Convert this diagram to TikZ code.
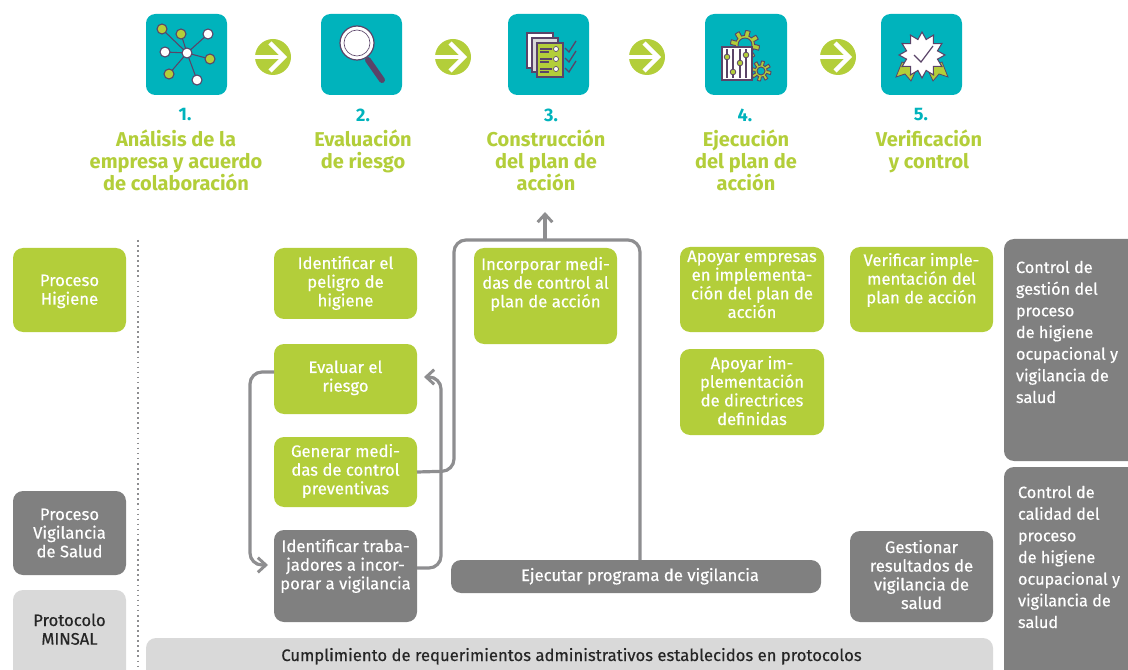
\documentclass[tikz,border=0pt]{standalone}
\usepackage{fontspec}
\setmainfont{Fira Sans}
\newfontfamily\bodyfont[FakeBold=0.45]{Fira Sans}
\usetikzlibrary{arrows.meta}
\definecolor{lime}{HTML}{B3CE3A}
\definecolor{teal2}{HTML}{00B3BC}
\definecolor{grayb}{HTML}{808080}
\definecolor{lightb}{HTML}{D9D9D9}
\definecolor{conn}{HTML}{8E8E90}
\definecolor{ink}{HTML}{5A4468}
\tikzset{
  x=0.75pt,y=-0.75pt,
  box/.style={rounded corners=7.5pt,inner sep=0pt,outer sep=0pt,text=white},
  link/.style={draw=conn,line width=2.4pt,rounded corners=9pt},
  tip/.style={-{Straight Barb[length=6pt,width=11pt,line width=2.2pt]}},
  head/.style={text=lime,font=\bfseries\fontsize{15}{16.5}\selectfont,align=center,anchor=north,inner sep=0pt},
  num/.style={text=teal2,font=\bfseries\fontsize{13.6}{16.5}\selectfont,inner sep=0pt},
  icon/.style={fill=teal2,rounded corners=7pt},
  go/.style={draw=white,line width=3.2pt},
  thin/.style={draw=ink,line width=.8pt},
}
% name, x1, y1, x2, y2, fill, first baseline y, text
\newcommand{\bx}[8]{%
  \pgfmathsetmacro{\cxx}{(#2+#4)/2}\pgfmathsetmacro{\cyy}{(#3+#5)/2}%
  \pgfmathsetmacro{\www}{(#4-#2)*0.75}\pgfmathsetmacro{\hhh}{(#5-#3)*0.75}%
  \pgfmathsetmacro{\ooo}{(#7-#3)*0.75}%
  \node[box,fill=#6] (#1) at (\cxx,\cyy) {\parbox[c][\hhh pt][t]{\www pt}{\bodyfont\fontsize{12.5}{14}\selectfont\centering\rule{0pt}{\ooo pt}#8}};}
% same, left aligned, wide leading: left margin in px as #9
\newcommand{\bxl}[9]{%
  \pgfmathsetmacro{\cxx}{(#2+#4)/2}\pgfmathsetmacro{\cyy}{(#3+#5)/2}%
  \pgfmathsetmacro{\www}{(#4-#2)*0.75}\pgfmathsetmacro{\hhh}{(#5-#3)*0.75}%
  \pgfmathsetmacro{\ooo}{(#7-#3)*0.75}\pgfmathsetmacro{\lll}{#9*0.75}%
  \node[box,fill=#6] (#1) at (\cxx,\cyy) {\parbox[c][\hhh pt][t]{\www pt}{\bodyfont\fontsize{12.2}{16.25}\selectfont\raggedright\leftskip=\lll pt\rule{0pt}{\ooo pt}#8}};}
\newcommand{\goarrow}[2]{%
  \fill[lime] (#1,#2) circle[radius=18];
  \draw[go] (#1-18,#2) -- (#1+10,#2);
  \draw[go] (#1-3,#2-14) -- (#1+11,#2) -- (#1-3,#2+14);}
\begin{document}
\begin{tikzpicture}
\useasboundingbox (0,0) rectangle (1128,670);
\clip (0,0) rectangle (1128,670);
% icons
\fill[icon] (146,14) rectangle (227,95);
\fill[icon] (321,14) rectangle (402,95);
\fill[icon] (508,14) rectangle (589,95);
\fill[icon] (705,14) rectangle (787,95);
\fill[icon] (881,14) rectangle (962,95);
% icon 1
\foreach \a/\b in {162/29,181/34,208/34,165/52,210/59,169/74,197/80}
  \draw[thin] (187,53) -- (\a,\b);
\foreach \a/\b in {162/29,181/34,210/59,169/74}
  \filldraw[draw=ink,fill=lime,line width=.8pt] (\a,\b) circle[radius=5];
\foreach \a/\b in {187/53,208/34,165/52,197/80}
  \filldraw[draw=ink,fill=white,line width=.8pt] (\a,\b) circle[radius=5];
% icon 2
\draw[ink,line width=4.5pt,line cap=round] (368,60) -- (382,80);
\filldraw[draw=ink,fill=white,line width=.9pt] (357,43) circle[radius=17];
\draw[ink,line width=.5pt] (357,43) circle[radius=13];
\fill[white] (357,43) circle[radius=11];
% icon 3
\filldraw[draw=ink,fill=white,line width=.9pt] (527,33) rectangle (553,68);
\filldraw[draw=ink,fill=lightb,line width=.9pt] (532,38) rectangle (558,72);
\filldraw[draw=ink,fill=lime,line width=.9pt] (537,43) rectangle (563,77);
\foreach \y in {49,59,69}{
  \draw[thin] (540,\y) -- (552,\y);
  \draw[thin] (540,\y+3) -- (549,\y+3);
  \filldraw[draw=ink,fill=white,line width=.5pt] (556,\y) circle[radius=2.5];
  \draw[ink,line width=1pt] (565,\y-1) -- (569,\y+3) -- (576,\y-8);
}
% icon 4
\filldraw[draw=ink,fill=lime,line width=.7pt] plot[domain=0:357,samples=120] ({745+(12+2.5*sign(sin(8*\x)))*cos(\x)},{45+(12+2.5*sign(sin(8*\x)))*sin(\x)}) -- cycle;
\filldraw[draw=ink,fill=teal2,line width=.7pt] (745,45) circle[radius=7];
\filldraw[draw=ink,fill=lime,line width=.7pt] plot[domain=0:357,samples=120] ({761+(8+2*sign(sin(8*\x)))*cos(\x)},{71+(8+2*sign(sin(8*\x)))*sin(\x)}) -- cycle;
\filldraw[draw=ink,fill=teal2,line width=.7pt] (761,71) circle[radius=4];
\filldraw[draw=ink,fill=white,line width=.9pt] (722,47) rectangle (752,80);
\foreach \a/\b in {727/57,733/72,740/63,746/55}{
  \draw[thin] (\a,49) -- (\a,78);
  \filldraw[draw=ink,fill=lime,line width=.6pt] (\a,\b) circle[radius=2.8];
}
% icon 5
\filldraw[lime,draw=ink,line width=.6pt] (902,62) -- (896,77) -- (905,74) -- (911,81) -- (917,68) -- cycle;
\filldraw[lime,draw=ink,line width=.6pt] (942,62) -- (948,77) -- (939,74) -- (933,81) -- (927,68) -- cycle;
\filldraw[draw=ink,fill=white,line width=.8pt] plot[samples at={0,15,...,345}] ({922+(19.5+3.5*cos(12*\x))*cos(\x)},{55+(19.5+3.5*cos(12*\x))*sin(\x)}) -- cycle;
\draw[ink,line width=.9pt] (914,55) -- (921,62) -- (933,46);
% flow arrows
\goarrow{273}{57}
\goarrow{453}{57}
\goarrow{647}{57}
\goarrow{838}{57}
% headings
\node[num] (n1) at (185,115) {1.};
\node[num] (n2) at (363,115) {2.};
\node[num] (n3) at (551,115) {3.};
\node[num] (n4) at (745,115) {4.};
\node[num] (n5) at (921,115) {5.};
\node[head] (h1) at (176,130) {Análisis de la\\empresa y acuerdo\\de colaboración};
\node[head] (h2) at (363,130) {Evaluación\\de riesgo};
\node[head] (h3) at (546,130) {Construcción\\del plan de\\acción};
\node[head] (h4) at (746,130) {Ejecución\\del plan de\\acción};
\node[head] (h5) at (929,130) {Verificación\\y control};
% dotted separator
\coordinate (sepA) at (138,240);
\coordinate (sepB) at (138,670);
\draw[conn,line width=1.1pt,dash pattern=on 1.2pt off 2.6pt] (sepA) -- (sepB);
% left column
\bx{ph}{13}{248}{126}{332}{lime}{286}{Proceso\\Higiene}
\bx{pv}{13}{491}{126}{575}{grayb}{520}{Proceso\\Vigilancia\\de Salud}
\bx{pm}{13}{590}{126}{690}{lightb}{626}{\textcolor{black!85}{Protocolo\\MINSAL}}
% middle
\bx{a1}{274}{248}{417}{319}{lime}{269}{Identificar el\\peligro de\\higiene}
\bx{a2}{274}{344}{417}{414}{lime}{373}{Evaluar el\\riesgo}
\bx{a3}{274}{437}{417}{507}{lime}{457}{Generar medi-\\das de control\\preventivas}
\bx{a4}{274}{530}{417}{622}{grayb}{552}{Identificar traba-\\jadores a incor-\\porar a vigilancia}
\bx{b1}{474}{248}{617}{344}{lime}{270}{Incorporar medi-\\das de control al\\plan de acción}
\bx{b2}{451}{560}{821}{593}{grayb}{581}{\hspace*{6pt}Ejecutar programa de vigilancia}
\bx{c1}{680}{247}{824}{332}{lime}{262}{Apoyar empresas\\en implementa-\\ción del plan de\\acción}
\bx{c2}{680}{349}{824}{435}{lime}{369}{Apoyar im-\\plementación\\de directrices\\definidas}
\bx{d1}{850}{247}{993}{332}{lime}{266}{Verificar imple-\\mentación del\\plan de acción}
\bx{d2}{850}{531}{993}{622}{grayb}{553}{Gestionar\\resultados de\\vigilancia de\\salud}
\bx{e1}{146}{638}{993}{700}{lightb}{661}{\hspace*{3pt}\textcolor{black!85}{Cumplimiento de requerimientos administrativos establecidos en protocolos}}
% right column
\bxl{r1}{1004}{239}{1160}{461}{grayb}{273}{Control de\\gestión del\\proceso\\de higiene\\ocupacional y\\vigilancia de\\salud}{12}
\bxl{r2}{1004}{467}{1160}{700}{grayb}{498}{Control de\\calidad del\\proceso\\de higiene\\ocupacional y\\vigilancia de\\salud}{14}
% connectors
\coordinate (top) at (545,212);
\draw[link,tip,shorten >=4.5pt] (a2.west |- 0,372) -- (250,372) -- (250,565) -- (a4.west |- 0,565);
\draw[link,tip] (a4.east |- 0,568) -- (441,568) -- (441,377) -- (424,377);
\draw[link] (a3.east) -- (454,471) -- (454,240) -- (545,240);
\draw[link] (b2.north -| 640,0) -- (640,240) -- (545,240);
\draw[link,tip,rounded corners=0pt] (545,240) -- (top);
\end{tikzpicture}
\end{document}
